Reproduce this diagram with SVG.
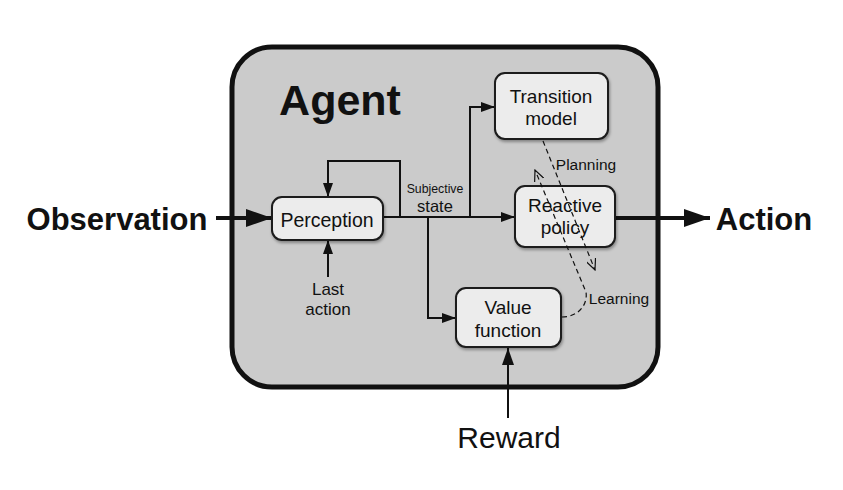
<svg xmlns="http://www.w3.org/2000/svg" width="843" height="490" viewBox="0 0 843 490">
<defs>
<style>
.t{font-family:"Liberation Sans",Arial,sans-serif;fill:#111;text-anchor:middle}
.b{font-weight:bold}
.node{fill:#ececec;stroke:#1a1a1a;stroke-width:2}
.ln{fill:none;stroke:#111;stroke-width:2}
.dash{fill:none;stroke:#111;stroke-width:1.2;stroke-dasharray:5 3.5}
</style>
<filter id="sh" x="-10%" y="-10%" width="130%" height="140%">
<feDropShadow dx="1" dy="2" stdDeviation="1.5" flood-color="#000" flood-opacity="0.35"/>
</filter>
<marker id="ah" viewBox="0 0 14 10" refX="14" refY="5" markerWidth="14" markerHeight="10" markerUnits="userSpaceOnUse" orient="auto">
<path d="M0,0 L14,5 L0,10 Z" fill="#111"/>
</marker>
<marker id="midah" viewBox="0 0 17 12" refX="17" refY="6" markerWidth="17" markerHeight="12" markerUnits="userSpaceOnUse" orient="auto">
<path d="M0,0 L17,6 L0,12 Z" fill="#111"/>
</marker>
<marker id="bigah" viewBox="0 0 26 18" refX="26" refY="9" markerWidth="26" markerHeight="18" markerUnits="userSpaceOnUse" orient="auto">
<path d="M0,0 L26,9 L0,18 Z" fill="#111"/>
</marker>
<marker id="open" viewBox="0 0 12 10" refX="11" refY="5" markerWidth="12" markerHeight="10" markerUnits="userSpaceOnUse" orient="auto">
<path d="M0,0 L11,5 L0,10" fill="none" stroke="#111" stroke-width="1.2"/>
</marker>
</defs>
<rect width="843" height="490" fill="#fff"/>
<g id="agent">
<rect x="232" y="47" width="426" height="340" rx="40" ry="40" fill="#cbcbcb" stroke="#111" stroke-width="5"/>
<text class="t b" x="340" y="115" font-size="43">Agent</text>
</g>
<g id="connectors">
<line x1="216" y1="218" x2="272" y2="218" stroke="#111" stroke-width="4" marker-end="url(#bigah)"/>
<line x1="615" y1="218" x2="710" y2="218" stroke="#111" stroke-width="4" marker-end="url(#bigah)"/>
<line class="ln" x1="383" y1="217" x2="515" y2="217" marker-end="url(#ah)"/>
<polyline class="ln" points="400,217 400,161 328,161 328,197" marker-end="url(#ah)"/>
<polyline class="ln" points="470,217 470,107 495,107" marker-end="url(#ah)"/>
<polyline class="ln" points="428,217 428,318 456,318" marker-end="url(#ah)"/>
<line class="ln" x1="328" y1="277" x2="328" y2="240" marker-end="url(#ah)"/>
<line class="ln" x1="508" y1="418" x2="508" y2="348" stroke-width="2.5" marker-end="url(#midah)"/>
</g>
<g id="perception">
<rect class="node" x="272" y="197" width="111" height="43" rx="10" filter="url(#sh)"/>
<text class="t" x="327" y="227" font-size="19.5">Perception</text>
</g>
<g id="transition-model">
<rect class="node" x="495" y="73" width="113" height="66" rx="10" filter="url(#sh)"/>
<text class="t" x="551" y="103" font-size="19">Transition</text>
<text class="t" x="551" y="125" font-size="19">model</text>
</g>
<g id="reactive-policy">
<rect class="node" x="515" y="186" width="100" height="61" rx="10" filter="url(#sh)"/>
<text class="t" x="565" y="212" font-size="19">Reactive</text>
<text class="t" x="565" y="234" font-size="19">policy</text>
</g>
<g id="value-function">
<rect class="node" x="456" y="288" width="105" height="59" rx="10" filter="url(#sh)"/>
<text class="t" x="508" y="314" font-size="19">Value</text>
<text class="t" x="508" y="337" font-size="19">function</text>
</g>
<g id="dashed">
<line class="dash" x1="543" y1="141" x2="595" y2="270" marker-end="url(#open)"/>
<path class="dash" d="M562,317 C578,317 588,305 586,292 L535,170" marker-end="url(#open)"/>
</g>
<g id="labels">
<text class="t b" x="117" y="230" font-size="31">Observation</text>
<text class="t b" x="764" y="230" font-size="31">Action</text>
<text class="t" x="509" y="448" font-size="30">Reward</text>
<text class="t" x="435" y="193" font-size="12.3">Subjective</text>
<text class="t" x="435" y="212" font-size="16.5">state</text>
<text class="t" x="586" y="170" font-size="15.5">Planning</text>
<text class="t" x="619" y="304" font-size="15.5">Learning</text>
<text class="t" x="328" y="295" font-size="17">Last</text>
<text class="t" x="328" y="315" font-size="17">action</text>
</g>
</svg>
